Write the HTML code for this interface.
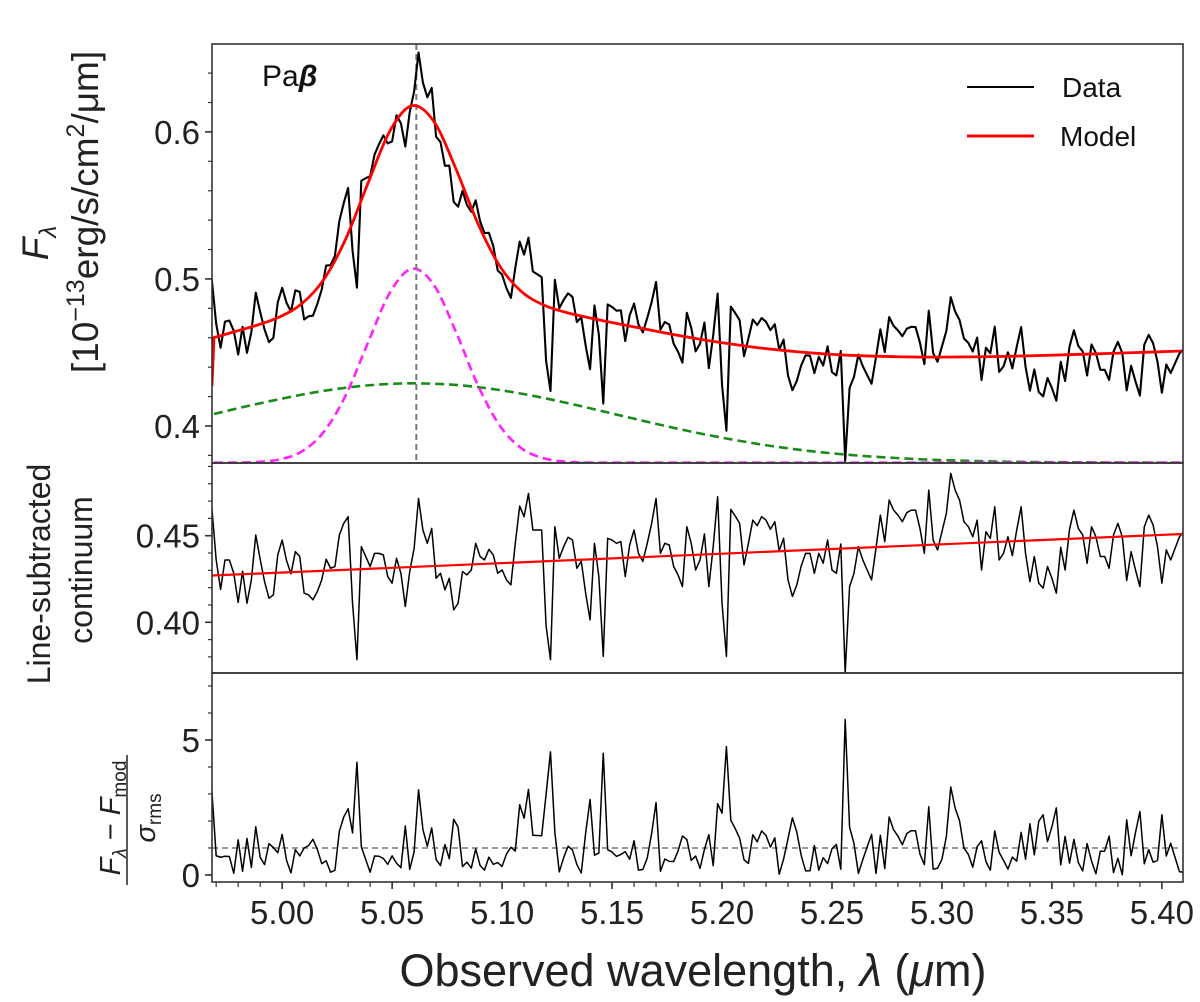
<!DOCTYPE html>
<html><head><meta charset="utf-8">
<style>
html,body{margin:0;padding:0;background:#fff;}
svg{display:block;font-family:"Liberation Sans",Arial,sans-serif;}
</style></head>
<body>
<svg id="fig" width="1200" height="1002" viewBox="0 0 1200 1002" xmlns="http://www.w3.org/2000/svg">
<defs>
<clipPath id="c1"><rect x="212" y="44" width="971" height="419"/></clipPath>
<clipPath id="c2"><rect x="212" y="463" width="971" height="210"/></clipPath>
<clipPath id="c3"><rect x="212" y="673" width="971" height="209"/></clipPath>
</defs>
<g id="g1" clip-path="url(#c1)"></g>
<g id="g2" clip-path="url(#c2)"></g>
<g id="g3" clip-path="url(#c3)"></g>
<g id="axes"></g>
<text x="262" y="86" font-size="30" fill="#111">Pa<tspan font-style="italic" font-weight="bold">β</tspan></text>
<g>
<line x1="967" y1="87" x2="1034" y2="87" stroke="#000" stroke-width="2"/>
<text x="1062" y="97" font-size="28" fill="#111">Data</text>
<line x1="967" y1="136" x2="1034" y2="136" stroke="#f00" stroke-width="3"/>
<text x="1060" y="146" font-size="28" fill="#111">Model</text>
</g>
<g>
<text transform="translate(48,243) rotate(-90)" text-anchor="middle" font-size="37" font-style="italic" fill="#222">F<tspan font-size="24" dy="8">λ</tspan></text>
<text transform="translate(98,212) rotate(-90)" text-anchor="middle" font-size="37" fill="#222">[10<tspan font-size="25" dy="-14">−13</tspan><tspan dy="14">erg/s/cm</tspan><tspan font-size="25" dy="-14">2</tspan><tspan dy="14">/μm]</tspan></text>
</g>
<g>
<text transform="translate(50,574) rotate(-90)" text-anchor="middle" font-size="32" fill="#222">Line-subtracted</text>
<text transform="translate(92,570) rotate(-90)" text-anchor="middle" font-size="32" fill="#222">continuum</text>
</g>
<g>
<text transform="translate(120,818) rotate(-90)" text-anchor="middle" font-size="29" fill="#222"><tspan font-style="italic">F</tspan><tspan font-size="19" font-style="italic" dy="6">λ</tspan><tspan dy="-6"> − </tspan><tspan font-style="italic">F</tspan><tspan font-size="19" dy="6">mod</tspan></text>
<line x1="127" y1="755" x2="127" y2="885" stroke="#222" stroke-width="1.5"/>
<text transform="translate(155,818) rotate(-90)" text-anchor="middle" font-size="29" fill="#222"><tspan font-style="italic">σ</tspan><tspan font-size="19" dy="6">rms</tspan></text>
</g>
<text x="693" y="986" text-anchor="middle" font-size="45" fill="#222">Observed wavelength, <tspan font-style="italic">λ</tspan> (<tspan font-style="italic">μ</tspan>m)</text>
</svg>
<script>
// ---- data ----
const lamStart = 4.968, lamStep = 0.002;
const contFlux = [
.4667,.436,.419,.436,.436,.4283,.4114,.4295,.411,.4245,
.4504,.4364,.4235,.4139,.4158,.4389,.4475,.4356,.428,.4408,
.438,.4168,.4158,.413,.4178,.4245,.4364,.4312,.4322,.4504,
.4571,.461,.411,.3784,.4437,.438,.4322,.4398,.4398,.4389,
.4264,.4226,.437,.4283,.4091,.4293,.4427,.4715,.4533,.4456,
.4542,.4254,.4283,.4187,.4254,.4072,
.411,.4293,.4274,.4302,
.4456,.438,.436,.4421,.4389,.4283,.4302,.4245,.4216,.4456,
.4671,.461,.4744,.4533,.4533,.4533,.398,.3784,.4552,.437,
.4437,.4491,.4475,.4312,.4352,.4168,.4014,.4456,.4264,.3803,
.4485,.4475,.4456,.4466,.4264,.4446,.4533,.4398,.4351,.4456,
.4571,.4715,.4398,.4456,.4446,.4322,.4274,.4206,.4552,.4456,.4302,
.436,.451,.4206,.4437,.4725,.411,.3803,.4652,.4614,
.4571,.4331,.4456,.459,.4558,.461,.459,.4537,.4581,.4414,
.4485,.4245,.4149,.4216,.4325,.4398,.4398,.4283,.4398,.4341,
.4475,.4302,.4283,.4452,.3707,.4206,.4283,.4437,.436,.4302,
.4245,.4427,.4619,.4466,.4706,.4648,.4619,.4581,.4633,.4648,
.4648,.4542,.4398,.4763,.4475,.4418,.4523,.4629,
.486,.4763,.4706,.4581,.4552,.4494,.459,.4302,.4523,.4485,.4667,.436,
.4398,.4494,.4385,.4533,.4667,.4398,.4235,.438,.4226,.4197,
.4322,.4254,.4168,.4433,.4302,.4537,.4648,.4542,.4504,.4341,
.4552,.4494,.438,.438,.4312,.4504,.4571,.4494,.4241,.4408,
.4302,.4206,.4552,.4619,.4562,.4437,.4226,.4418,.436,.4427,.4494,.4523];
const compStart = 4.969, compStep = 0.01;
const narrowAmp = [0,0.0001,0.0005,0.0023,0.0077,0.0211,0.0462,0.0816,0.1157,0.1319,0.1209,0.0890,0.0527,0.0251,0.0096,0.0030,0.0007,0.0001,0,0,0,0,0,0,0,0,0,0,0,0,0,0,0,0,0,0,0,0,0,0,0,0,0,0,0];
const broadAmp = [.0331,.0367,.0401,.0433,.0463,.0489,.0510,.0526,.0536,.054,.0537,.0529,.0514,.0494,.0469,.0440,.0408,.0374,.0338,.0303,.0268,.0234,.0202,.0173,.0146,.0121,.0100,.0081,.0065,.0052,.0041,.0032,.0024,.0018,.0014,.0010,.0007,.0005,.0004,.0003,.0002,.0001,.0001,0,0];
const compBase = 0.375;
const contLam = [4.968, 5.4096];
const contLine = [0.427, 0.451];
const sigmaRms = 0.0125;
const lineCenter = 5.061;
const xTicks = [5.00,5.05,5.10,5.15,5.20,5.25,5.30,5.35,5.40];
const xTickLabels = ["5.00","5.05","5.10","5.15","5.20","5.25","5.30","5.35","5.40"];
const topTicks = [0.4,0.5,0.6], topTickLabels = ["0.4","0.5","0.6"];
const midTicks = [0.40,0.45], midTickLabels = ["0.40","0.45"];
const botTicks = [0,5], botTickLabels = ["0","5"];

// ---- scales ----
const X0=212, X1=1183;
const xDom=[4.9681,5.4096];
const x = v => X0 + (v-xDom[0])/(xDom[1]-xDom[0])*(X1-X0);
const mk = (d0,d1,p0,p1) => v => p0 + (v-d0)/(d1-d0)*(p1-p0);
const yT = mk(0.3748,0.6598,463,44);
const yM = mk(0.3707,0.4920,673,463);
const yB = mk(-0.26,7.48,882,673);

const NS="http://www.w3.org/2000/svg";
function el(tag, attrs, parent){const e=document.createElementNS(NS,tag);for(const k in attrs)e.setAttribute(k,attrs[k]);parent.appendChild(e);return e;}
const g1=document.getElementById('g1'),g2=document.getElementById('g2'),g3=document.getElementById('g3'),ax=document.getElementById('axes');

function interp(arr,start,step,l){let f=(l-start)/step;if(f<=0)return arr[0];if(f>=arr.length-1)return arr[arr.length-1];const i=Math.floor(f),t=f-i;return arr[i]*(1-t)+arr[i+1]*t;}
const contAt = l => contLine[0]+(l-contLam[0])/(contLam[1]-contLam[0])*(contLine[1]-contLine[0]);
function poly(pts){return pts.map((p,i)=>(i?'L':'M')+p[0].toFixed(2)+' '+p[1].toFixed(2)).join(' ');}
function smooth(pts){let d='M'+pts[0][0]+' '+pts[0][1];for(let i=0;i<pts.length-1;i++){const p0=pts[Math.max(0,i-1)],p1=pts[i],p2=pts[i+1],p3=pts[Math.min(pts.length-1,i+2)];const c1=[p1[0]+(p2[0]-p0[0])/6,p1[1]+(p2[1]-p0[1])/6],c2=[p2[0]-(p3[0]-p1[0])/6,p2[1]-(p3[1]-p1[1])/6];d+=' C'+c1[0].toFixed(2)+' '+c1[1].toFixed(2)+' '+c2[0].toFixed(2)+' '+c2[1].toFixed(2)+' '+p2[0].toFixed(2)+' '+p2[1].toFixed(2);}return d;}

const lams = contFlux.map((_,i)=>lamStart+lamStep*i);
const comps = narrowAmp.map((_,i)=>compStart+compStep*i);
const topFlux = contFlux.map((v,i)=>v+interp(narrowAmp,compStart,compStep,lams[i])+interp(broadAmp,compStart,compStep,lams[i]));
const resid = contFlux.map((v,i)=>Math.abs(v-contAt(lams[i]))/sigmaRms);

// top panel
let p;
p=el('path',{d:smooth(comps.map((l,i)=>[x(l),yT(compBase+broadAmp[i])])),fill:'none',stroke:'#1a8a1a','stroke-width':2.6,'stroke-dasharray':'9 5'},g1);


p=el('path',{d:smooth(comps.map((l,i)=>[x(l),yT(compBase+narrowAmp[i])])),fill:'none',stroke:'#ff22ff','stroke-width':2.6,'stroke-dasharray':'9 5'},g1);


p=el('line',{x1:x(lineCenter),x2:x(lineCenter),y1:44,y2:463,stroke:'#777','stroke-width':2,'stroke-dasharray':'6 4'},g1);


p=el('path',{d:poly(lams.map((l,i)=>[x(l),yT(topFlux[i])])),fill:'none',stroke:'#000','stroke-width':2.1,'stroke-linejoin':'round'},g1);


const mpts=[[x(xDom[0]),yT(contAt(xDom[0]))]].concat(comps.map((l,i)=>[x(l),yT(contAt(l)+narrowAmp[i]+broadAmp[i])]));
p=el('path',{d:'M'+mpts[0][0]+' '+mpts[0][1]+' '+smooth(mpts.slice(1)).replace('M','L'),fill:'none',stroke:'#f00','stroke-width':2.8},g1);



// middle panel
p=el('path',{d:poly(lams.map((l,i)=>[x(l),yM(contFlux[i])])),fill:'none',stroke:'#000','stroke-width':1.5,'stroke-linejoin':'round'},g2);


p=el('line',{x1:x(contLam[0]),y1:yM(contLine[0]),x2:x(contLam[1]),y2:yM(contLine[1]),stroke:'#f00','stroke-width':2.2},g2);



// bottom panel
p=el('line',{x1:X0,x2:X1,y1:yB(1),y2:yB(1),stroke:'#777','stroke-width':1.5,'stroke-dasharray':'6 4'},g3);


p=el('path',{d:poly(lams.map((l,i)=>[x(l),yB(resid[i])])),fill:'none',stroke:'#000','stroke-width':1.5,'stroke-linejoin':'round'},g3);



// frames
[[44,463,'top-panel-frame'],[463,673,'middle-panel-frame'],[673,882,'bottom-panel-frame']].forEach(f=>{
 const r=el('rect',{x:X0,y:f[0],width:X1-X0,height:f[1]-f[0],fill:'none',stroke:'#333','stroke-width':1.6},ax);
 
 
});
function yTicks(ticks,labels,scale,minStart,minEnd,minStep,top,bot,name){
 for(let v=minStart;v<=minEnd+1e-9;v+=minStep){const yy=scale(v);if(yy<top||yy>bot)continue;el('line',{x1:X0-4,x2:X0,y1:yy,y2:yy,stroke:'#333','stroke-width':1.2},ax);}
 ticks.forEach((v,i)=>{const yy=scale(v);el('line',{x1:X0-7,x2:X0,y1:yy,y2:yy,stroke:'#333','stroke-width':1.6},ax);
  const t=el('text',{x:X0-12,y:yy+12,'text-anchor':'end','font-size':33,fill:'#222'},ax);t.textContent=labels[i];
  
  });
}
yTicks(topTicks,topTickLabels,yT,0.38,0.66,0.02,44,463,'top-y');
yTicks(midTicks,midTickLabels,yM,0.38,0.49,0.01,463,673,'middle-y');
yTicks(botTicks,botTickLabels,yB,0,7,1,673,882,'bottom-y');
for(let v=4.97;v<=5.41;v+=0.01){const xx=x(v);if(xx<X0||xx>X1)continue;el('line',{x1:xx,x2:xx,y1:882,y2:887,stroke:'#333','stroke-width':1.2},ax);}
xTicks.forEach((v,i)=>{const xx=x(v);el('line',{x1:xx,x2:xx,y1:882,y2:889,stroke:'#333','stroke-width':1.6},ax);
 const t=el('text',{x:xx,y:924,'text-anchor':'middle','font-size':33,fill:'#222'},ax);t.textContent=xTickLabels[i];
 
 });
</script>
</body></html>
